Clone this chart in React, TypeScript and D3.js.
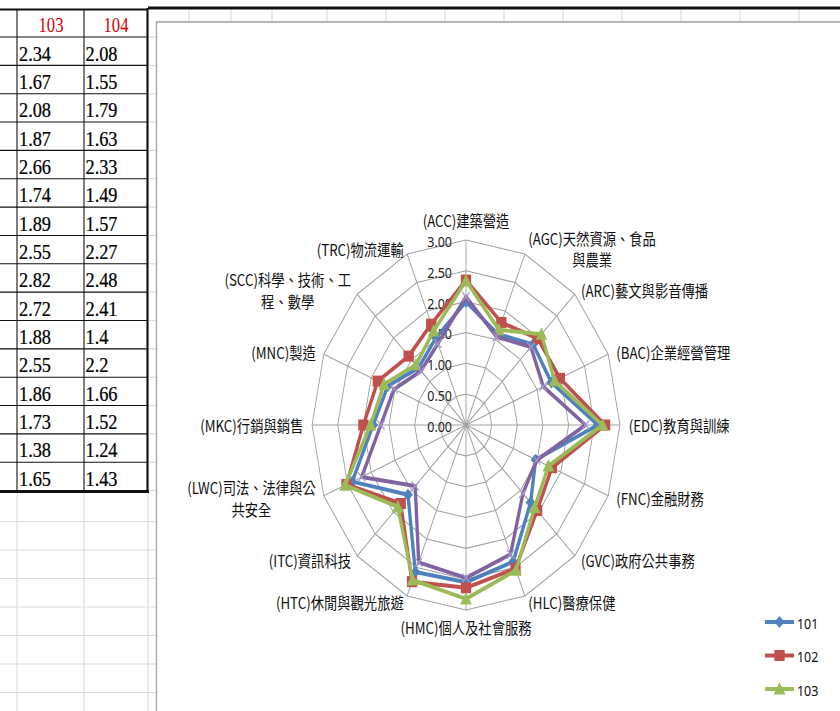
import React, { useLayoutEffect, useRef } from "react";
import * as d3 from "d3";

// ---------------- data ----------------
const categories = ["ACC", "AGC", "ARC", "BAC", "EDC", "FNC", "GVC", "HLC", "HMC", "HTC", "ITC", "LWC", "MKC", "MNC", "SCC", "TRC"];
const categoryLabels: string[][] = [
  ["(ACC)建築營造"],
  ["(AGC)天然資源、食品", "與農業"],
  ["(ARC)藝文與影音傳播"],
  ["(BAC)企業經營管理"],
  ["(EDC)教育與訓練"],
  ["(FNC)金融財務"],
  ["(GVC)政府公共事務"],
  ["(HLC)醫療保健"],
  ["(HMC)個人及社會服務"],
  ["(HTC)休閒與觀光旅遊"],
  ["(ITC)資訊科技"],
  ["(LWC)司法、法律與公", "共安全"],
  ["(MKC)行銷與銷售"],
  ["(MNC)製造"],
  ["(SCC)科學、技術、工", "程、數學"],
  ["(TRC)物流運輸"],
];
const series101 = [2.0, 1.6, 1.85, 1.8, 2.57, 1.47, 1.78, 2.4, 2.55, 2.58, 1.6, 2.4, 1.81, 1.65, 1.31, 1.53];
const series102 = [2.35, 1.8, 1.98, 1.98, 2.71, 1.81, 1.96, 2.52, 2.64, 2.75, 1.8, 2.52, 2.0, 1.86, 1.58, 1.77];
const series103 = [2.34, 1.67, 2.08, 1.87, 2.66, 1.74, 1.89, 2.55, 2.82, 2.72, 1.88, 2.55, 1.86, 1.73, 1.38, 1.65];
const series104 = [2.08, 1.55, 1.79, 1.63, 2.33, 1.49, 1.57, 2.27, 2.48, 2.41, 1.4, 2.2, 1.66, 1.52, 1.24, 1.43];
const seriesNames = ["101", "102", "103", "104"];
const tableHeaders = ["103", "104"];
const radialTicks = [0, 0.5, 1, 1.5, 2, 2.5, 3];

// ---------------- layout ----------------
const SX = 0.832; // horizontal squeeze of the screenshot
const L = (s: number) => s / SX; // screen x -> logical x
const W = 840;
const H = 711;
const cx = L(466);
const cy = 425;
const R = 185;
const colors = ["#4F81BD", "#C0504D", "#9BBB59", "#8064A2"];
const markerKinds = ["diamond", "square", "triangle", "x"];
const allSeries = [series101, series102, series103, series104];

const rScale = d3.scaleLinear().domain([0, 3]).range([0, R]);
const N = categories.length;
const ang = (i: number) => (i * 2 * Math.PI) / N;

const radial = d3
  .lineRadial<number>()
  .angle((_, i) => ang(i))
  .radius((d) => rScale(d))
  .curve(d3.curveLinearClosed);

function Marker({ kind, x, y, color }: { kind: string; x: number; y: number; color: string }) {
  if (kind === "diamond") {
    const s = 6;
    return <path d={`M${x},${y - s}L${x + s},${y}L${x},${y + s}L${x - s},${y}Z`} fill={color} />;
  }
  if (kind === "square") {
    return <rect x={x - 6.2} y={y - 5.5} width={12.4} height={11} fill={color} />;
  }
  if (kind === "triangle") {
    return <path d={`M${x},${y - 7}L${x + 7},${y + 5.5}L${x - 7},${y + 5.5}Z`} fill={color} />;
  }
  const s = 4.5;
  return (
    <path
      d={`M${x - s},${y - s}L${x + s},${y + s}M${x + s},${y - s}L${x - s},${y + s}`}
      stroke="#A898C8"
      strokeWidth={1.3}
      fill="none"
    />
  );
}

const tableRowTop = 37;
const tableRowH = 28.35;
const tableRows = series103.length;
const tableBottom = tableRowTop + tableRows * tableRowH;
const belowRows = [1, 2, 3, 4, 5, 6, 7].map((k) => 493 + 28.5 * k);
const topCols = [189, 231, 272, 327, 386, 445, 504, 563, 622, 681, 740, 799];
const legendTop = 622;
const legendStep = 33.5;

export default function App() {
  const labelRefs = useRef<(SVGGElement | null)[]>([]);

  const labelPos = categories.map((_, i) => {
    const s = Math.sin(ang(i));
    const c = Math.cos(ang(i));
    const vx = cx + R * s;
    const vy = cy - R * c;
    if (Math.abs(s) < 0.1) {
      return { edge: vx, y: c > 0 ? vy - 20 : vy + 17, side: 0 };
    }
    return { edge: vx + 10.5 * s, y: vy - 6 * c, side: s > 0 ? 1 : -1 };
  });

  useLayoutEffect(() => {
    labelRefs.current.forEach((g, i) => {
      if (!g) return;
      const texts = Array.from(g.querySelectorAll("text")) as SVGTextElement[];
      const w = d3.max(texts, (t) => t.getComputedTextLength()) || 0;
      const p = labelPos[i];
      const x = p.side > 0 ? p.edge + w / 2 : p.side < 0 ? p.edge - w / 2 : p.edge;
      g.setAttribute("transform", `translate(${x},${p.y})`);
    });
  }, []);

  const rowLines = d3.range(tableRows + 1).map((i) => tableRowTop + i * tableRowH);
  // legend entries whose row lies inside the visible window
  const legendItems = seriesNames
    .map((name, si) => ({ name, si, y: legendTop + si * legendStep }))
    .filter((d) => d.y + 10 < H);

  return (
    <svg
      width={W}
      height={H}
      style={{ position: "absolute", left: 0, top: 0, background: "#fff" }}
    >
      <g transform={`scale(${SX},1)`}>
        <rect x={0} y={0} width={L(W)} height={H} fill="#fff" />
        {/* spreadsheet grid */}
        {belowRows.map((y, i) => (
          <line key={"br" + i} x1={0} x2={L(160)} y1={y} y2={y} stroke="#dcdcdc" strokeWidth={1.2} />
        ))}
        {rowLines.map((y, i) => (
          <line key={"rg" + i} x1={L(148)} x2={L(160)} y1={y} y2={y} stroke="#dcdcdc" strokeWidth={1.2} />
        ))}
        {[17, 84, 148].map((x, i) => (
          <line key={"vc" + i} x1={L(x)} x2={L(x)} y1={tableBottom} y2={H} stroke="#dcdcdc" strokeWidth={1.4} />
        ))}
        {topCols.map((x, i) => (
          <line key={"tc" + i} x1={L(x)} x2={L(x)} y1={9} y2={24} stroke="#dcdcdc" strokeWidth={1.4} />
        ))}
        <line x1={L(148)} x2={L(W)} y1={8} y2={8} stroke="#111" strokeWidth={3} />

        {/* table */}
        {rowLines.map((y, i) => (
          <line key={"tr" + i} x1={0} x2={L(148)} y1={y} y2={y} stroke="#111" strokeWidth={1.1} />
        ))}
        <line x1={0} x2={L(148)} y1={9.5} y2={9.5} stroke="#111" strokeWidth={1.8} />
        <line x1={0} x2={L(149)} y1={tableBottom + 1} y2={tableBottom + 1} stroke="#111" strokeWidth={3} />
        <line x1={L(17)} x2={L(17)} y1={9} y2={tableBottom} stroke="#111" strokeWidth={1.3} />
        <line x1={L(84)} x2={L(84)} y1={9} y2={tableBottom} stroke="#111" strokeWidth={1.3} />
        <line x1={L(147.5)} x2={L(147.5)} y1={8} y2={tableBottom + 2} stroke="#111" strokeWidth={2.6} />
        {tableHeaders.map((h, j) => (
          <text
            key={"th" + j}
            x={L(j === 0 ? 51 : 116)}
            y={tableRowTop - 5}
            textAnchor="middle"
            fontFamily="'Liberation Serif', serif"
            fontSize={20}
            fill="#d40000"
          >
            {h}
          </text>
        ))}
        {[series103, series104].map((col, j) =>
          col.map((v, i) => (
            <text
              key={"td" + j + "-" + i}
              x={L(j === 0 ? 19 : 85.5)}
              y={tableRowTop + (i + 1) * tableRowH - 4.8}
              fontFamily="'Liberation Serif', serif"
              fontSize={22}
              fill="#000"
              stroke="#000"
              strokeWidth={0.25}
            >
              {String(v)}
            </text>
          ))
        )}

        {/* chart area */}
        <rect x={L(156.5)} y={22} width={L(W) + 50} height={H + 50} fill="#fff" stroke="#a6a6a6" strokeWidth={1.6} />

        {/* radar grid */}
        {radialTicks.slice(1).map((t, k) => (
          <path
            key={"ring" + k}
            d={radial(categories.map(() => t)) || ""}
            transform={`translate(${cx},${cy})`}
            fill="none"
            stroke="#a0a0a0"
            strokeWidth={1.1}
          />
        ))}
        {categories.map((_, i) => (
          <line
            key={"sp" + i}
            x1={cx}
            y1={cy}
            x2={cx + R * Math.sin(ang(i))}
            y2={cy - R * Math.cos(ang(i))}
            stroke="#a0a0a0"
            strokeWidth={1.1}
          />
        ))}
        {radialTicks.map((t, k) => (
          <text
            key={"tk" + k}
            x={L(452)}
            y={cy - rScale(t) + 1}
            textAnchor="end"
            dominantBaseline="central"
            fontFamily="'Noto Sans', sans-serif"
            fontSize={15}
            fill="#222"
          >
            {t.toFixed(2)}
          </text>
        ))}

        {/* category labels */}
        {categoryLabels.map((lines, i) => (
          <g
            key={"lab" + i}
            ref={(el) => {
              labelRefs.current[i] = el;
            }}
            transform={`translate(${labelPos[i].edge},${labelPos[i].y})`}
          >
            {lines.map((ln, k) => (
              <text
                key={k}
                x={0}
                y={(k - (lines.length - 1) / 2) * 21.5}
                textAnchor="middle"
                dominantBaseline="central"
                fontFamily="'Noto Sans CJK TC', 'Noto Sans', sans-serif"
                fontSize={16}
                fill="#111"
              >
                {ln}
              </text>
            ))}
          </g>
        ))}

        {/* series */}
        {allSeries.map((vals, si) => (
          <g key={"s" + si}>
            <path
              d={radial(vals) || ""}
              transform={`translate(${cx},${cy})`}
              fill="none"
              stroke={colors[si]}
              strokeWidth={4}
              strokeLinejoin="round"
            />
            {vals.map((v, i) => (
              <Marker
                key={i}
                kind={markerKinds[si]}
                x={cx + rScale(v) * Math.sin(ang(i))}
                y={cy - rScale(v) * Math.cos(ang(i))}
                color={colors[si]}
              />
            ))}
          </g>
        ))}

        {/* legend */}
        {legendItems.map(({ name, si, y }) => {
          const x1 = L(765);
          const x2 = L(794);
          return (
            <g key={"lg" + si}>
              <line x1={x1} x2={x2} y1={y} y2={y} stroke={colors[si]} strokeWidth={4} />
              <Marker kind={markerKinds[si]} x={(x1 + x2) / 2} y={y} color={colors[si]} />
              <text
                x={L(797)}
                y={y + 1}
                dominantBaseline="central"
                fontFamily="'Noto Sans', sans-serif"
                fontSize={15}
                fill="#111"
              >
                {name}
              </text>
            </g>
          );
        })}
      </g>
    </svg>
  );
}
